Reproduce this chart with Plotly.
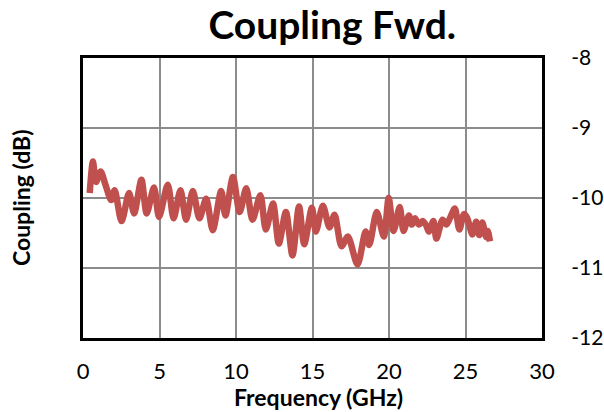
import plotly.graph_objects as go

freq_ghz = [0.44, 0.65, 0.85, 1.15, 1.44, 1.84, 2.07, 2.52, 3.01, 3.34, 3.82, 4.16, 4.64, 4.97,
            5.54, 5.92, 6.37, 6.74, 7.18, 7.61, 8.05, 8.48, 9.03, 9.31, 9.80, 10.24, 10.67,
            11.08, 11.59, 11.95, 12.42, 12.80, 13.26, 13.69, 14.12, 14.46, 14.96, 15.22,
            15.68, 16.11, 16.44, 16.90, 17.31, 17.94, 18.47, 18.71, 19.20, 19.66, 19.98,
            20.30, 20.70, 20.95, 21.30, 21.50, 21.70, 21.95, 22.20, 22.45, 22.60, 22.90,
            23.10, 23.50, 23.75, 24.00, 24.30, 24.60, 24.90, 25.10, 25.45, 25.70, 25.90,
            26.10, 26.35, 26.45, 26.60]
coupling_db = [-9.93, -9.48, -9.77, -9.62, -9.79, -10.03, -9.89, -10.33, -9.93, -10.22, -9.74,
               -10.22, -9.85, -10.27, -9.81, -10.29, -9.89, -10.31, -9.90, -10.29, -10.01,
               -10.46, -9.90, -10.25, -9.70, -10.20, -9.86, -10.31, -9.96, -10.45, -10.08,
               -10.65, -10.20, -10.82, -10.12, -10.66, -10.14, -10.48, -10.11, -10.42,
               -10.24, -10.69, -10.55, -10.95, -10.48, -10.67, -10.20, -10.55, -10.00,
               -10.47, -10.13, -10.47, -10.25, -10.38, -10.29, -10.38, -10.33, -10.40,
               -10.48, -10.33, -10.58, -10.31, -10.38, -10.28, -10.15, -10.45, -10.23,
               -10.28, -10.52, -10.34, -10.53, -10.35, -10.56, -10.47, -10.62]

x_ticks = [0, 5, 10, 15, 20, 25, 30]
y_ticks = [-8, -9, -10, -11, -12]

FONT = "Lato"

fig = go.Figure()
fig.add_trace(go.Scatter(
    x=freq_ghz, y=coupling_db, mode="lines",
    line=dict(color="#C0504D", width=6.5, shape="spline", smoothing=0.8),
    showlegend=False, hoverinfo="skip",
))

fig.update_layout(
    width=604, height=412,
    margin=dict(l=83, r=62, t=58, b=74, autoexpand=False),
    paper_bgcolor="white", plot_bgcolor="white",
    font=dict(family=FONT, color="black"),
    title=dict(text="<b>Coupling Fwd.</b>", x=0.543, xref="paper", xanchor="center",
               y=0.972, yanchor="top", yref="container",
               font=dict(family=FONT, size=39, color="black")),
    xaxis=dict(range=[0, 30], tickvals=x_ticks, ticktext=[str(v) for v in x_ticks],
               showgrid=True, gridcolor="#8c8c8c", gridwidth=2,
               showline=True, linecolor="black", linewidth=3, mirror=True,
               ticks="", ticklabelstandoff=12, zeroline=False, automargin=False,
               tickfont=dict(family=FONT, size=22, color="black")),
    yaxis=dict(range=[-12, -8], tickvals=y_ticks, ticktext=[str(v) for v in y_ticks],
               side="right",
               showgrid=True, gridcolor="#8c8c8c", gridwidth=2,
               showline=True, linecolor="black", linewidth=3, mirror=True,
               ticks="", ticklabelstandoff=22, zeroline=False, automargin=False,
               tickfont=dict(family=FONT, size=21, color="black")),
    annotations=[
        dict(text="<b>Frequency (GHz)</b>", xref="paper", yref="paper",
             x=0.514, y=-0.21, xanchor="center", yanchor="middle", showarrow=False,
             font=dict(family=FONT, size=23, color="black")),
        dict(text="<b>Coupling (dB)</b>", xref="paper", yref="paper",
             x=-0.135, y=0.5, xanchor="center", yanchor="middle", showarrow=False,
             textangle=-90, font=dict(family=FONT, size=23, color="black")),
    ],
)

fig.write_html("out.html", config={"displayModeBar": False},
               post_script="document.body.style.margin='0';document.body.style.padding='0';")
